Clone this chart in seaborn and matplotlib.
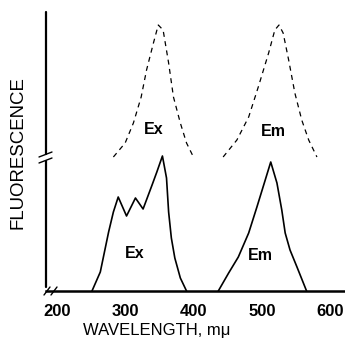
import matplotlib
matplotlib.use("Agg")
import matplotlib.pyplot as plt
import seaborn as sns
import pandas as pd

sns.set_theme(style="white")
plt.rcParams['font.family'] = ['Liberation Sans', 'DejaVu Sans']

# Data (wavelength in m-mu, fluorescence in arbitrary units)
ex_solid_wl = [250.6, 262.8, 275.0, 282.0, 289.1, 301.3, 314.4, 325.6, 338.8, 345.8, 354.0, 360.0, 363.1, 367.1, 372.2, 380.3, 389.4]
ex_solid_f = [0, 19, 59, 79, 94, 75, 93, 82, 106, 119, 135, 113, 79, 53, 33, 13, 0]
em_solid_wl = [436.0, 451.2, 465.4, 480.6, 492.7, 504.9, 513.0, 522.1, 529.2, 534.2, 541.3, 551.5, 565.6]
em_solid_f = [0, 18, 34, 58, 84, 111, 129, 108, 81, 58, 41, 24, 0]
ex_dash_wl = [282.0, 299.3, 311.4, 322.8, 330.7, 340.8, 347.9, 355.0, 363.1, 370.2, 380.3, 389.4, 399.5]
ex_dash_f = [134, 148, 168, 194, 221, 248, 266, 261, 228, 194, 168, 148, 134]
em_dash_wl = [443.1, 463.3, 480.6, 494.7, 509.9, 519.0, 525.1, 531.2, 539.3, 548.4, 558.5, 568.7, 580.8]
em_dash_f = [134, 151, 174, 204, 238, 261, 266, 258, 231, 198, 171, 151, 134]
x_ticks = [200, 300, 400, 500, 600]
labels = [("Ex", 341.8, 161), ("Em", 517.0, 160), ("Ex", 313.4, 38), ("Em", 497.8, 35)]

W, H = 345, 348
fig = plt.figure(figsize=(W / 100, H / 100), dpi=100)
ax_l, ax_r, ax_t, ax_b = 46, 345, 12, 291
ax = fig.add_axes([ax_l / W, 1 - ax_b / H, (ax_r - ax_l) / W, (ax_b - ax_t) / H])
ax.set_facecolor('white')

def draw(wl, f, ls, lw):
    df = pd.DataFrame({"wl": wl, "f": f})
    sns.lineplot(data=df, x="wl", y="f", sort=False, estimator=None, ax=ax,
                 color='black', linewidth=lw, linestyle=ls)

draw(ex_solid_wl, ex_solid_f, '-', 1.2)
draw(em_solid_wl, em_solid_f, '-', 1.2)
draw(ex_dash_wl, ex_dash_f, (0, (4, 3.5)), 0.9)
draw(em_dash_wl, em_dash_f, (0, (4, 3.5)), 0.9)

for txt, x, y in labels:
    ax.text(x, y, txt, ha='center', va='center', fontsize=11.5, fontweight='bold', color='black')

ax.set_xlim(183.1, 622)
ax.set_ylim(0, 279)
ax.set_xticks(x_ticks)
ax.set_xticklabels([str(t) for t in x_ticks], fontsize=12, fontweight='bold')
ax.set_yticks([])
ax.tick_params(axis='x', direction='out', length=3, width=1, pad=6, colors='black')
for s in ['top', 'right', 'left']:
    ax.spines[s].set_visible(False)
ax.spines['bottom'].set_linewidth(1.8)
ax.spines['bottom'].set_color('black')
ax.set_xlabel("")
ax.set_ylabel("")

# left axis with break marks (decoration)
px = 1 / (ax_r - ax_l)
py = 1 / (ax_b - ax_t)
kw = dict(transform=ax.transAxes, color='black', clip_on=False, linewidth=1.6)
ax.plot([0, 0], [4 * py, (291 - 161) * py], **kw)
ax.plot([0, 0], [(291 - 154) * py, 1], **kw)
kw2 = dict(transform=ax.transAxes, color='black', clip_on=False, linewidth=1.0)
for yy in [291 - 160, 291 - 154]:
    ax.plot([-7 * px, 6 * px], [(yy - 3) * py, (yy + 2) * py], **kw2)
# x break marks
for xx in [1, 8]:
    ax.plot([(xx - 3) * px, (xx + 3) * px], [-4 * py, 4 * py], **kw2)

fig.text(157 / W, 1 - 331 / H, "WAVELENGTH, mμ", ha='center', va='center',
         fontsize=12, color='black')
fig.text(18 / W, 1 - 153 / H, "FLUORESCENCE", rotation=90, ha='center', va='center',
         fontsize=13.4, color='black')

fig.savefig("out.png", dpi=100, facecolor='white')
